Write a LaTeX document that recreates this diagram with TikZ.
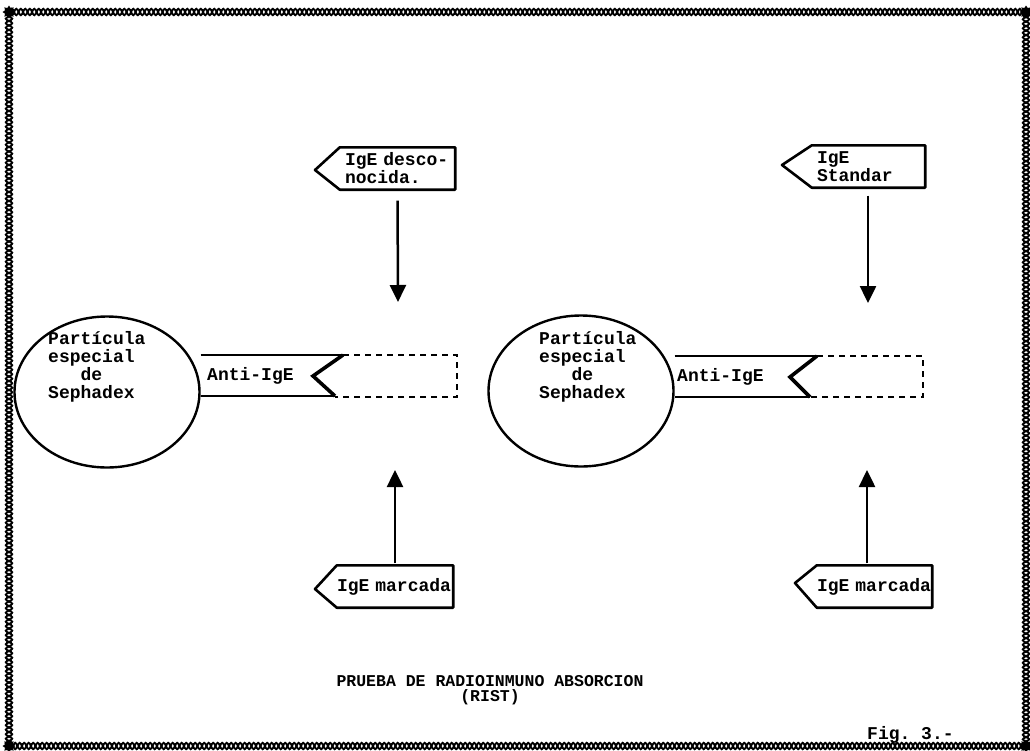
\documentclass[tikz,border=0pt]{standalone}
\usepackage{fontspec}
\setmainfont{Liberation Mono}
\frenchspacing
\usetikzlibrary{arrows.meta,shapes.geometric,decorations.pathmorphing,calc}
\tikzset{
  txt/.style={font=\bfseries\fontsize{18}{18}\selectfont, inner sep=0pt},
  particle/.style={draw, line width=2.4pt, ellipse, inner sep=0pt, minimum width=185pt, minimum height=151pt},
  lblbox/.style={txt, align=left, inner ysep=0pt, minimum height=42pt},
  pent/.style={draw, line width=2.6pt, line join=round},
  solidedge/.style={draw, line width=2.4pt},
  notch/.style={draw, line width=3.6pt, line join=miter},
  dashedge/.style={draw, line width=2.5pt, dash pattern=on 6pt off 5pt},
  arr/.style={draw, line width=2.5pt, -{Triangle[length=17pt,width=16pt]}},
  ropeA/.style={line width=1.9pt, decorate, decoration={snake, amplitude=3.2pt, segment length=9pt}},
  ropeB/.style={line width=1.9pt, decorate, decoration={snake, amplitude=3.2pt, segment length=9pt, mirror}},
  corner/.style={star, star points=8, fill=black, inner sep=0pt, minimum size=13pt},
}
\begin{document}
\begin{tikzpicture}[x=1pt,y=-1pt]
\useasboundingbox (0,0) rectangle (1030,750);

% border
\coordinate (tl) at (9,12);
\coordinate (tr) at (1026,12);
\coordinate (br) at (1026,746);
\coordinate (bl) at (9,746);
\foreach \s in {ropeA,ropeB}{
  \draw[\s] (tl) -- (tr);
  \draw[\s] (tr) -- (br);
  \draw[\s] (br) -- (bl);
  \draw[\s] (bl) -- (tl);
}
\node[corner] (ctl) at (tl) {};
\node[corner] (ctr) at (tr) {};
\node[corner] (cbr) at (br) {};
\node[corner] (cbl) at (bl) {};

% ---------- left assembly ----------
\node[particle] (p1) at (107,392) {};
\node[txt, anchor=west, align=left] (p1t) at (48,367) {Partícula\\especial\\\phantom{xxx}de\\Sephadex};
\path[solidedge] (p1.east |- 0,355) -- (343,355);
\path[solidedge] (p1.east |- 0,396) -- (335,396);
\path[notch] (343,355) -- (313,376) -- (335,396);
\path[dashedge] (343,355) -- (457,355) -- (457,397) -- (335,397);
\node[txt, anchor=west] (ab1) at (207,376) {Anti-IgE};

\node[lblbox, text width=105pt, inner xsep=5pt] (u1) at (397.5,168.5) {IgE desco-\\nocida.};
\coordinate (u1tip) at (315,170);
\path[pent] (u1.north west) -- (u1.north east) -- (u1.south east) -- (u1.south west) -- (u1tip) -- cycle;
\coordinate (a1) at (398,302);
\path[arr, shorten <=11pt] (u1.south) -- (a1);

\node[lblbox, text width=116pt, inner xsep=0pt] (d1) at (395,586.5) {IgE marcada};
\coordinate (d1tip) at (315,589);
\path[pent] (d1.north west) -- (d1.north east) -- (d1.south east) -- (d1.south west) -- (d1tip) -- cycle;
\coordinate (a3) at (395,470);
\path[arr, shorten <=2pt] (d1.north) -- (a3);

% ---------- right assembly ----------
\node[particle] (p2) at (581,391) {};
\node[txt, anchor=west, align=left] (p2t) at (539,367) {Partícula\\especial\\\phantom{xxx}de\\Sephadex};
\path[solidedge] (p2.east |- 0,356) -- (817,356);
\path[solidedge] (p2.east |- 0,397) -- (810,397);
\path[notch] (817,356) -- (790,377) -- (810,397);
\path[dashedge] (817,356) -- (923,356) -- (923,397) -- (810,397);
\node[txt, anchor=west] (ab2) at (677,377) {Anti-IgE};

\node[lblbox, text width=103pt, inner xsep=5pt] (u2) at (868.5,166.5) {IgE\\Standar};
\coordinate (u2tip) at (782,165);
\path[pent] (u2.north west) -- (u2.north east) -- (u2.south east) -- (u2.south west) -- (u2tip) -- cycle;
\coordinate (a2) at (868,303);
\path[arr, shorten <=8pt] (u2.south -| a2) -- (a2);

\node[lblbox, text width=115pt, inner xsep=0pt] (d2) at (874.5,586.5) {IgE marcada};
\coordinate (d2tip) at (795,583);
\path[pent] (d2.north west) -- (d2.north east) -- (d2.south east) -- (d2.south west) -- (d2tip) -- cycle;
\coordinate (a4) at (867,470);
\path[arr, shorten <=2pt] (d2.north -| a4) -- (a4);

% ---------- captions ----------
\node[txt, font=\bfseries\fontsize{16.5}{15}\selectfont, align=center] (title) at (490,690) {PRUEBA DE RADIOINMUNO ABSORCION\\(RIST)};
\node[txt, anchor=west] (fig) at (867,735) {Fig. 3.-};
\end{tikzpicture}
\end{document}
